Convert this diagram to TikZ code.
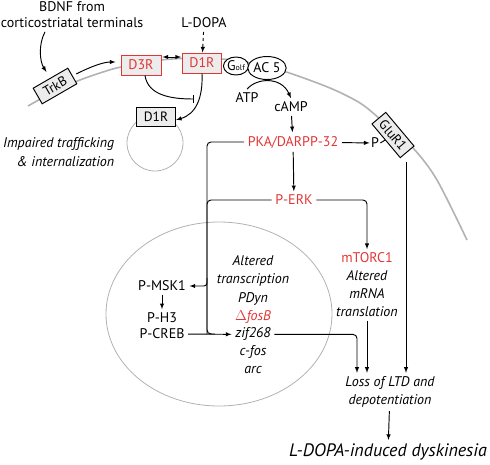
\documentclass[tikz,border=0pt]{standalone}
\usepackage{fontspec}
\setmainfont{PT Sans}
\usetikzlibrary{shapes.geometric}
\definecolor{sigred}{RGB}{226,54,54}
\definecolor{memgray}{RGB}{178,178,178}
\definecolor{boxfill}{RGB}{236,236,236}

\begin{document}
\begin{tikzpicture}[x=1pt, y=-1pt, >=latex, line width=0.95pt,
    font=\fontsize{14}{17}\selectfont]
      \tikzset{
  receptor/.style={
    rectangle,
    draw=sigred,
    fill=boxfill,
    text=sigred,
    minimum width=40pt,
    minimum height=20pt,
    inner sep=0pt
  },
  darkbox/.style={
    rectangle,
    draw,
    fill=boxfill,
    font=\fontsize{13.5}{16}\selectfont,
    minimum width=39pt,
    minimum height=19pt,
    inner sep=0pt
  },
  protein/.style={
    ellipse,
    draw,
    fill=white,
    inner sep=0pt
  },
  signal/.style={text=sigred},
  effect/.style={font=\fontsize{14}{18}\selectfont\itshape, align=center},
  gene fosb/.style={text=sigred},
  membrane/.style={draw=memgray, line width=1.6pt},
  compartment/.style={draw=memgray, line width=0.8pt}
}
\useasboundingbox (0,0) rectangle (490,464);

% membrane, vesicle and nucleus
\draw[membrane] plot[smooth] coordinates {(28,106) (55,91) (80,80) (103,72) (121,67)
  (161,60) (200,58) (240,61) (283,71) (330,88) (360,103) (380,119) (413,148)
  (437,180) (467,240)};
\draw[compartment] (155,143) circle [radius=28pt];
\draw[compartment] (219,314) ellipse [x radius=113pt, y radius=92pt];

% receptors at the membrane
\node[align=center, font=\fontsize{14}{16}\selectfont] (bdnf) at (72,15) {BDNF from\\corticostriatal terminals};
\node[darkbox, rotate=30, minimum width=40pt, minimum height=18pt] (trkb) at (55,86) {TrkB};
\node[receptor] (d3r) at (141,65) {D3R};
\node[receptor, minimum width=39pt] (d1r) at (202,63) {D1R};
\node[darkbox] (d1r-int) at (156,117) {D1R};
\node (ldopa) at (204,23) {L-DOPA};
\node[protein, minimum width=25pt, minimum height=18pt] (golf) at (236,66)
  {G{\fontsize{8}{8}\selectfont olf}};
\node[protein, minimum width=33pt, minimum height=23pt] (ac5) at (267,68) {AC 5};
\node (atp) at (247,98) {ATP};
\node (camp) at (291,107) {cAMP};
\node[effect, anchor=east, align=right, font=\fontsize{14}{19}\selectfont\itshape] (impaired) at (118,152)
  {Impaired trafficking\\\& internalization};

% cascade
\node[signal] (pka) at (293,142) {PKA/DARPP-32};
\node[inner sep=1pt] (p) at (375,143) {P};
\node[darkbox, rotate=-50, minimum width=44pt, minimum height=18pt] (glur) at (393,135) {GluR1};
\node[signal] (perk) at (294,200) {P-ERK};
\node[signal] (mtorc) at (367,258) {mTORC1};
\node[effect] (transl) at (367,294) {Altered\\mRNA\\translation};

% nucleus
\node (pmsk) at (162,286) {P-MSK1};
\node (ph3) at (162,318) {P-H3};
\node (pcreb) at (162,334) {P-CREB};
\node[effect] (transc) at (253,271) {Altered\\transcription};
\foreach \g/\n [count=\y] in {PDyn/pdyn, $\Delta$fosB/fosb, zif268/zif, c-fos/cfos, arc/arc}
  \node[effect, gene \n/.try] (gene-\n) at (253,281+17.8*\y) {\g};

\node[effect] (loss) at (390,392) {Loss of LTD and\\depotentiation};
\node[font=\fontsize{18}{20}\selectfont\itshape] (ldid) at (388,452) {L-DOPA-induced dyskinesia};

\coordinate (block) at (194,99);
\coordinate (trunk) at (207,334);
\coordinate (glur-foot) at (406,162);

\draw[->, shorten >=7pt] ([xshift=-27pt]bdnf.south) .. controls (38,45) and (40,62) .. (trkb.north);
\draw[->, shorten <=4pt, shorten >=5pt] (trkb.east) .. controls (92,66) and (104,62) .. ([yshift=3pt]d3r.west);
\draw[<->, shorten <=1pt, shorten >=1pt] ([yshift=8pt]d3r.east) -- ([yshift=8pt]d3r.east -| d1r.west);
\draw[->, dashed] (ldopa) -- (d1r);
\draw[-|] ([xshift=4pt]d3r.south) .. controls (148,95) and (170,99) .. (block);
\draw[->] (d1r.south) .. controls (203,98) and (196,114) .. ([yshift=-3pt]d1r-int.east);
\draw[->] (atp.north) .. controls (256,78) and (281,76) .. (camp.north);

\draw[->] (camp) -- (pka);
\draw[->] (pka) -- (p);
\draw (p.east) -- (glur);
\draw[->] (pka) -- (perk);
\draw[rounded corners=4pt] (pka.west) -| (trunk) -- ([xshift=8pt]trunk);
\draw[rounded corners=4pt] (perk.west) -| (trunk);
\draw[->, rounded corners=3pt] ([yshift=8pt]trunk |- pmsk) |- (pmsk.east);
\draw[->] (pmsk) -- (ph3);
\draw[->] (pcreb) -- (gene-zif);
\draw[->, rounded corners=4pt] (perk.east) -| (mtorc.north);

\draw[->, rounded corners=4pt] (gene-zif.east) -| ([xshift=-33pt]loss.north);
\draw[->] (transl) -- (transl |- loss.north);
\draw[->] (glur-foot) -- (glur-foot |- loss.north);
\draw[->] (loss) -- (ldid);
    \end{tikzpicture}
\end{document}
